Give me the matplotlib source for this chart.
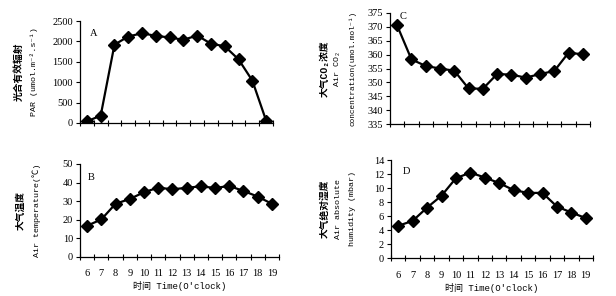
import matplotlib
matplotlib.use("Agg")
import matplotlib.pyplot as plt
import numpy as np

hours = [6, 7, 8, 9, 10, 11, 12, 13, 14, 15, 16, 17, 18, 19]
par = [40, 180, 1920, 2120, 2200, 2136, 2096, 2040, 2144, 1944, 1880, 1560, 1040, 60]
co2 = [370.5, 358.3, 355.9, 355.0, 354.2, 347.8, 347.7, 353.0, 352.8, 351.7, 353.0, 354.1, 360.7, 360.1]
temp = [16.8, 20.2, 28.6, 31.2, 34.8, 37.3, 36.4, 37.2, 38.0, 37.1, 38.2, 35.5, 32.5, 28.6]
hum = [4.6, 5.3, 7.2, 8.9, 11.4, 12.2, 11.5, 10.7, 9.7, 9.3, 9.3, 7.35, 6.5, 5.7]

SERIF = ['Liberation Serif', 'Noto Sans CJK SC', 'DejaVu Sans']
MONO = ['Liberation Mono', 'Noto Sans CJK SC', 'DejaVu Sans']

fig = plt.figure(figsize=(6.16, 2.96), dpi=100)

panels = [
    dict(pos=[80/616, 1-123/296, 193/616, 102/296], y=par, ylim=(0, 2500), yt=np.arange(0, 2501, 500),
         letter='A', lpos=(0.05, 0.88), xt=False,
         ylab=[('光合有效辐射', 7), ('PAR (umol.m⁻².s⁻¹)', 6)], lx=[-0.32, -0.235]),
    dict(pos=[390/616, 1-124/296, 200/616, 111/296], y=co2, ylim=(335, 375), yt=np.arange(335, 376, 5),
         letter='C', lpos=(0.05, 0.97), xt=False,
         ylab=[('大气CO₂浓度', 7), ('Air CO₂', 6), ('concentration(umol.mol⁻¹)', 5.6)],
         lx=[-0.325, -0.26, -0.185]),
    dict(pos=[80/616, 1-257/296, 199/616, 93/296], y=temp, ylim=(0, 50), yt=np.arange(0, 51, 10),
         letter='B', lpos=(0.04, 0.86), xt=True,
         ylab=[('大气温度', 7), ('Air temperature(℃)', 6)], lx=[-0.30, -0.22]),
    dict(pos=[391/616, 1-258/296, 202/616, 98/296], y=hum, ylim=(0, 14), yt=np.arange(0, 15, 2),
         letter='D', lpos=(0.06, 0.88), xt=True,
         ylab=[('大气绝对湿度', 7), ('Air absolute', 6), ('humidity (mbar)', 6)],
         lx=[-0.327, -0.262, -0.193]),
]

x = np.arange(len(hours))
for p in panels:
    ax = fig.add_axes(p['pos'])
    ax.plot(x, p['y'], color='black', lw=1.6, marker='D', ms=6.5, mfc='black', mec='black')
    ax.set_xlim(-0.5, len(hours) - 0.5)
    ax.set_ylim(*p['ylim'])
    ax.set_yticks(p['yt'])
    ax.set_yticklabels([str(v) for v in p['yt']], fontfamily=SERIF, fontsize=7.5)
    ax.set_xticks(np.arange(-0.5, len(hours) - 0.4, 1.0))
    ax.set_xticklabels([])
    ax.tick_params(axis='x', direction='inout', length=4, width=0.8)
    ax.tick_params(axis='y', direction='out', length=3, width=0.8, pad=2)
    if p['xt']:
        for xi, h in zip(x, hours):
            ax.text(xi, -0.18, str(h), transform=ax.get_xaxis_transform(), ha='center', va='center',
                    fontfamily=SERIF, fontsize=7.5)
        ax.text(0.5, -0.31, '时间 Time(O\'clock)', transform=ax.transAxes, ha='center', va='center',
                fontfamily=MONO, fontsize=6.5)
    for s in ['top', 'right']:
        ax.spines[s].set_visible(False)
    for s in ['left', 'bottom']:
        ax.spines[s].set_linewidth(0.9)
    ax.text(p['lpos'][0], p['lpos'][1], p['letter'], transform=ax.transAxes, ha='left', va='center',
            fontfamily=SERIF, fontsize=7.5)
    for i, ((lab, fs), lx) in enumerate(zip(p['ylab'], p['lx'])):
        ax.text(lx, 0.5, lab, transform=ax.transAxes, rotation=90, ha='center', va='center',
                fontfamily=MONO, fontsize=fs, fontweight='bold' if i == 0 else 'normal')

fig.savefig('out.png', dpi=100)
